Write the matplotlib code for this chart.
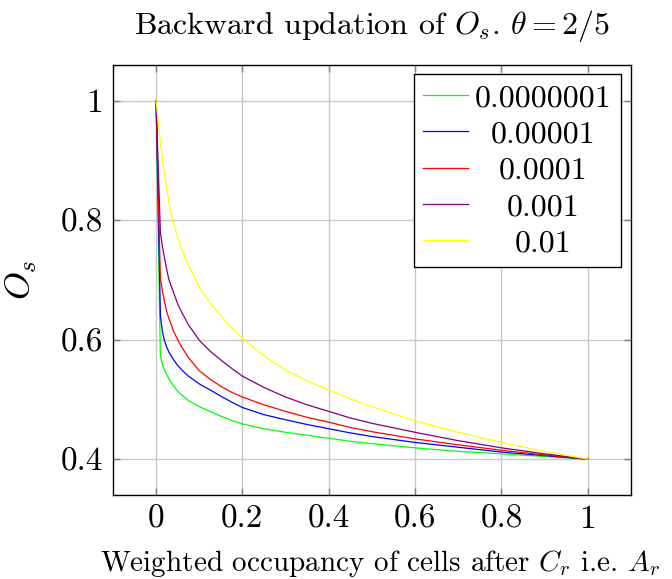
import matplotlib
matplotlib.use("Agg")
import matplotlib.pyplot as plt

plt.rcParams['font.family'] = 'serif'
plt.rcParams['font.serif'] = ['cmr10']
plt.rcParams['mathtext.fontset'] = 'cm'
plt.rcParams['axes.formatter.use_mathtext'] = True

# values
x = [0, 0.01, 0.015, 0.02, 0.025, 0.03, 0.04, 0.05, 0.06, 0.075, 0.1, 0.125, 0.15, 0.175,
     0.2, 0.25, 0.3, 0.35, 0.4, 0.45, 0.5, 0.6, 0.7, 0.8, 0.9, 1.0]
os_1e7 = [1, 0.572, 0.557, 0.548, 0.541, 0.534, 0.523, 0.514, 0.507, 0.498, 0.488, 0.480,
          0.472, 0.465, 0.459, 0.451, 0.445, 0.440, 0.435, 0.430, 0.426, 0.419, 0.413, 0.409, 0.4045, 0.4]
os_1e5 = [1, 0.640, 0.612, 0.597, 0.587, 0.579, 0.567, 0.557, 0.549, 0.539, 0.526, 0.516,
          0.5055, 0.4955, 0.4865, 0.4745, 0.466, 0.458, 0.451, 0.444, 0.438, 0.428, 0.420, 0.412, 0.406, 0.4]
os_1e4 = [1, 0.702, 0.680, 0.662, 0.646, 0.635, 0.615, 0.600, 0.587, 0.570, 0.548, 0.534,
          0.522, 0.512, 0.504, 0.491, 0.480, 0.470, 0.462, 0.453, 0.446, 0.434, 0.424, 0.415, 0.407, 0.4]
os_1e3 = [1, 0.780, 0.755, 0.735, 0.716, 0.700, 0.680, 0.660, 0.645, 0.625, 0.599, 0.581,
          0.566, 0.552, 0.539, 0.520, 0.504, 0.491, 0.480, 0.469, 0.460, 0.445, 0.431, 0.419, 0.409, 0.4]
os_1e2 = [1, 0.930, 0.900, 0.875, 0.850, 0.828, 0.795, 0.772, 0.750, 0.725, 0.688, 0.661,
          0.640, 0.620, 0.602, 0.573, 0.549, 0.531, 0.516, 0.501, 0.488, 0.464, 0.445, 0.428, 0.413, 0.4]

labels = ['0.0000001', '0.00001', '0.0001', '0.001', '0.01']
colors = ['#00ff00', '#0000ff', '#ff0000', '#800080', '#ffff00']
series = [os_1e7, os_1e5, os_1e4, os_1e3, os_1e2]

xticks = [0, 0.2, 0.4, 0.6, 0.8, 1]
xticklabels = ['0', '0.2', '0.4', '0.6', '0.8', '1']
yticks = [0.4, 0.6, 0.8, 1]
yticklabels = ['0.4', '0.6', '0.8', '1']

fig = plt.figure(figsize=(6.72, 5.79), dpi=100)
ax = fig.add_axes([0.168, 0.145, 0.771, 0.743])

for ys, c, lab in zip(series, colors, labels):
    ax.plot(x, ys, color=c, lw=0.9, label=lab)

ax.set_xlim(-0.1, 1.1)
ax.set_ylim(0.34, 1.06)
ax.set_xticks(xticks)
ax.set_xticklabels(xticklabels)
ax.set_yticks(yticks)
ax.set_yticklabels(yticklabels)
ax.tick_params(direction='in', top=True, right=True, length=5, width=1,
               color='#808080', labelsize=24, pad=7)
ax.grid(True, color='#c8c8c8', lw=1)
ax.set_axisbelow(True)
for s in ax.spines.values():
    s.set_linewidth(1)

ax.set_title(r'Backward updation of $O_s$. $\theta = 2/5$', fontsize=23, pad=22)
ax.set_xlabel(r'Weighted occupancy of cells after $C_r$ i.e. $A_r$', fontsize=21, labelpad=8)
ax.xaxis.set_label_coords(0.515, -0.122)
ax.set_ylabel(r'$O_s$', fontsize=26, labelpad=16)

leg = ax.legend(loc='upper right', bbox_to_anchor=(0.980, 0.978), borderaxespad=0,
                fontsize=23, fancybox=False, edgecolor='black', framealpha=1,
                handlelength=1.4, handletextpad=0.2, labelspacing=0.25,
                borderpad=0.3)
leg.get_frame().set_linewidth(1)

# center legend texts like pgfplots does
fig.canvas.draw()
texts = leg.get_texts()
widths = [t.get_window_extent().width for t in texts]
wmax = max(widths)
for t, w in zip(texts, widths):
    t.set_x((wmax - w) / 2)

fig.savefig('out.png', dpi=100)
